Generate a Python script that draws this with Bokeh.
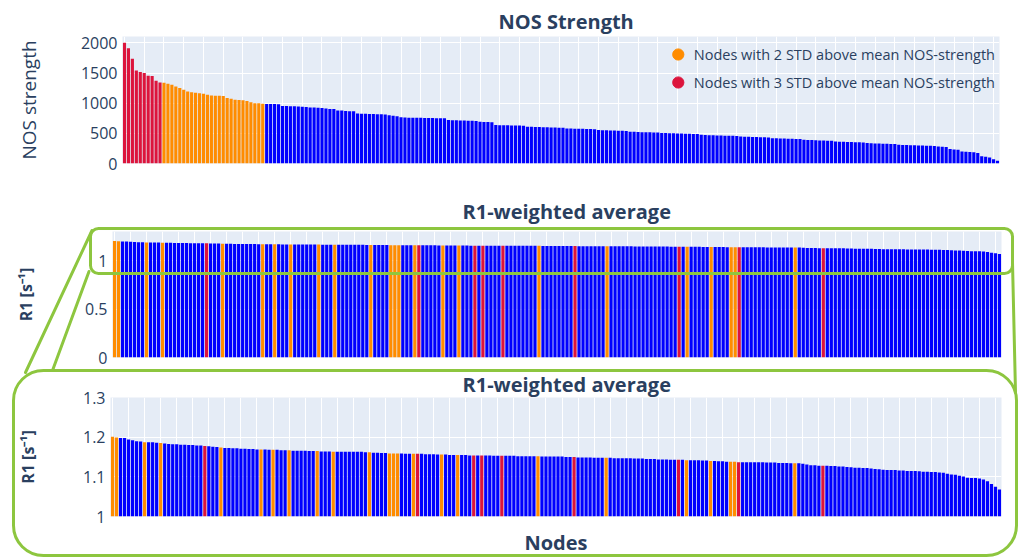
from bokeh.plotting import figure
from bokeh.models import (Range1d, FixedTicker, PrintfTickFormatter, BoxAnnotation,
                          Legend, LegendItem, ColumnDataSource, GridBox)
from bokeh.embed import file_html
from bokeh.resources import INLINE

# ---------------- data ----------------
# NOS strength per node, sorted descending
nos_strength = [
    2000, 1912, 1736, 1543, 1515, 1499, 1455, 1449, 1372, 1344,
    1339, 1322, 1306, 1278, 1251, 1223, 1195, 1179, 1174, 1163,
    1157, 1140, 1129, 1124, 1124, 1118, 1085, 1074, 1058, 1052,
    1047, 1036, 1014, 997, 997, 992, 985, 985, 985, 980,
    955, 952, 950, 948, 945, 940, 936, 930, 928, 925,
    920, 910, 905, 903, 880, 879, 870, 866, 864, 830,
    825, 823, 822, 820, 818, 815, 812, 800, 790, 782,
    765, 762, 760, 760, 758, 757, 756, 755, 754, 752,
    751, 750, 720, 718, 716, 714, 712, 710, 708, 705,
    690, 688, 686, 684, 640, 636, 634, 632, 631, 630,
    628, 626, 610, 608, 606, 604, 602, 600, 598, 595,
    594, 592, 582, 580, 578, 576, 575, 573, 571, 569,
    555, 552, 550, 548, 546, 544, 542, 540, 528, 525,
    522, 520, 518, 516, 514, 512, 506, 505, 503, 500,
    498, 496, 494, 492, 490, 488, 475, 472, 470, 468,
    466, 464, 462, 460, 458, 456, 447, 444, 442, 440,
    438, 436, 434, 432, 420, 418, 416, 413, 411, 409,
    407, 405, 393, 390, 388, 385, 383, 381, 379, 377,
    365, 362, 360, 357, 355, 353, 351, 349, 338, 336,
    333, 330, 328, 326, 324, 322, 310, 308, 306, 303,
    301, 299, 297, 295, 293, 291, 280, 278, 275, 240,
    232, 228, 200, 195, 190, 185, 175, 120, 110, 100,
    70, 45,
]
n_nodes_3std = 10   # first nodes (by NOS strength) with 3 STD above mean
n_nodes_2std = 26   # following nodes with 2 STD above mean

# R1-weighted average per node, sorted descending
r1_weighted = [
    1.201, 1.199, 1.198, 1.198, 1.194, 1.192, 1.190, 1.189, 1.187, 1.187,
    1.187, 1.186, 1.185, 1.184, 1.183, 1.182, 1.182, 1.181, 1.181, 1.180,
    1.180, 1.179, 1.179, 1.178, 1.177, 1.176, 1.175, 1.174, 1.173, 1.173,
    1.172, 1.172, 1.171, 1.171, 1.170, 1.170, 1.169, 1.169, 1.169, 1.168,
    1.168, 1.168, 1.167, 1.167, 1.167, 1.166, 1.166, 1.166, 1.166, 1.165,
    1.165, 1.165, 1.164, 1.164, 1.164, 1.163, 1.163, 1.163, 1.163, 1.163,
    1.163, 1.163, 1.163, 1.162, 1.162, 1.161, 1.161, 1.160, 1.160, 1.159,
    1.159, 1.159, 1.159, 1.158, 1.158, 1.158, 1.158, 1.158, 1.157, 1.157,
    1.157, 1.156, 1.156, 1.156, 1.155, 1.155, 1.155, 1.155, 1.155, 1.154,
    1.154, 1.154, 1.154, 1.154, 1.154, 1.153, 1.153, 1.153, 1.153, 1.153,
    1.153, 1.152, 1.152, 1.152, 1.152, 1.152, 1.152, 1.151, 1.151, 1.151,
    1.151, 1.151, 1.151, 1.150, 1.150, 1.150, 1.149, 1.149, 1.149, 1.149,
    1.148, 1.148, 1.148, 1.148, 1.148, 1.147, 1.147, 1.147, 1.147, 1.147,
    1.146, 1.146, 1.146, 1.145, 1.145, 1.145, 1.144, 1.144, 1.144, 1.143,
    1.143, 1.143, 1.143, 1.142, 1.142, 1.142, 1.142, 1.141, 1.141, 1.140,
    1.140, 1.139, 1.139, 1.138, 1.138, 1.138, 1.137, 1.137, 1.137, 1.137,
    1.137, 1.137, 1.137, 1.136, 1.136, 1.136, 1.135, 1.135, 1.135, 1.134,
    1.134, 1.134, 1.133, 1.131, 1.129, 1.129, 1.128, 1.128, 1.128, 1.127,
    1.127, 1.126, 1.126, 1.125, 1.124, 1.123, 1.123, 1.122, 1.122, 1.121,
    1.120, 1.119, 1.118, 1.117, 1.117, 1.117, 1.116, 1.116, 1.115, 1.115,
    1.115, 1.114, 1.113, 1.113, 1.112, 1.112, 1.111, 1.110, 1.108, 1.106,
    1.105, 1.103, 1.101, 1.098, 1.097, 1.097, 1.096, 1.093, 1.089, 1.082,
    1.075, 1.068,
]
# positions (in R1 order) of the nodes that are high in NOS strength
r1_nodes_2std = [0, 1, 8, 12, 27, 37, 40, 44, 51, 55, 64, 69, 70, 71, 75, 82,
                 86, 106, 123, 143, 149, 154, 155, 170]
r1_nodes_3std = [23, 76, 90, 92, 97, 115, 141, 156, 177]

legend_labels = ["Nodes with 2 STD above mean NOS-strength",
                 "Nodes with 3 STD above mean NOS-strength"]
nos_ticks = [0, 500, 1000, 1500, 2000]
r1_ticks = [0, 0.5, 1]
r1_zoom_ticks = [1, 1.1, 1.2, 1.3]

# ---------------- style ----------------
FONT = "Open Sans"
TXT = "#2a3f5f"
PLOT_BG = "#E5ECF6"
BLUE = "#0000FF"
ORANGE = "#FF8C00"
RED = "#DC143C"
GREEN = "#8DC63F"
W = 1020
H = 558


def make_panel(height, ref_top, frame, y_range, yticks, grid_step, title,
               title_offset, title_standoff, ylabel, ylabel_size, ylabel_style,
               ylabel_standoff, xlabel=None):
    fl, fr, ft, fb = frame  # frame edges in page pixels
    p = figure(width=W, height=height, output_backend="svg", toolbar_location=None,
               x_range=Range1d(-0.5, len(nos_strength) - 0.5),
               y_range=Range1d(*y_range),
               x_axis_location="below" if xlabel else None,
               min_border_left=fl, min_border_right=W - fr,
               min_border_top=ft - ref_top, min_border_bottom=height - (fb - ref_top),
               background_fill_color=PLOT_BG, border_fill_color="white",
               outline_line_color=None, frame_align=False)
    p.title.text = title
    p.title.align = "left"
    p.title.offset = title_offset
    p.title.standoff = title_standoff
    p.title.text_font = FONT
    p.title.text_font_size = "20px"
    p.title.text_font_style = "bold"
    p.title.text_color = TXT
    p.xgrid.ticker = FixedTicker(ticks=list(range(0, len(nos_strength), grid_step)))
    p.ygrid.ticker = FixedTicker(ticks=yticks)
    p.grid.grid_line_color = "white"
    p.grid.grid_line_width = 1
    ax = p.yaxis[0]
    ax.ticker = FixedTicker(ticks=yticks)
    ax.formatter = PrintfTickFormatter(format="%g")
    ax.axis_line_color = None
    ax.major_tick_line_color = None
    ax.minor_tick_line_color = None
    ax.major_tick_out = 0
    ax.major_label_standoff = 5
    ax.major_label_text_font = FONT
    ax.major_label_text_font_size = "16px"
    ax.major_label_text_color = TXT
    ax.axis_label = ylabel
    ax.axis_label_text_font = FONT
    ax.axis_label_text_font_size = ylabel_size
    ax.axis_label_text_font_style = ylabel_style
    ax.axis_label_text_color = TXT
    ax.axis_label_standoff = ylabel_standoff
    if xlabel:
        xa = p.xaxis[0]
        xa.ticker = FixedTicker(ticks=[])
        xa.axis_line_color = None
        xa.major_tick_line_color = None
        xa.minor_tick_line_color = None
        xa.major_tick_out = 0
        xa.major_label_standoff = 0
        xa.axis_label = xlabel
        xa.axis_label_text_font = FONT
        xa.axis_label_text_font_size = "20px"
        xa.axis_label_text_font_style = "bold"
        xa.axis_label_text_color = TXT
        xa.axis_label_standoff = 12
    return p


idx = list(range(len(nos_strength)))

# ---------------- panel A : NOS strength ----------------
pA = make_panel(185, 0, (122, 999, 36, 163), (0, 2105), nos_ticks, 5,
                "NOS Strength", 376, 3, "NOS strength", "19px", "normal", 36)
colA = [RED if i < n_nodes_3std else ORANGE if i < n_nodes_3std + n_nodes_2std else BLUE
        for i in idx]
pA.vbar(x="x", top="top", width=0.8, bottom=0, fill_color="c", line_color=None,
        source=ColumnDataSource(dict(x=idx, top=nos_strength, c=colA)))
# legend swatches: zero-size markers on the highlighted bars
i2 = [i for i in idx if colA[i] == ORANGE]
i3 = [i for i in idx if colA[i] == RED]
rO = pA.scatter(x=i2, y=[nos_strength[i] for i in i2], marker="circle", size=0,
                fill_color=ORANGE, line_color=ORANGE)
rR = pA.scatter(x=i3, y=[nos_strength[i] for i in i3], marker="circle", size=0,
                fill_color=RED, line_color=RED)
leg = Legend(items=[LegendItem(label=legend_labels[0], renderers=[rO]),
                    LegendItem(label=legend_labels[1], renderers=[rR])],
             location="top_right", margin=4, padding=3, spacing=0,
             glyph_width=28, glyph_height=28, label_standoff=2,
             label_text_font=FONT, label_text_font_size="14.5px",
             label_text_color=TXT, background_fill_alpha=0, border_line_color=None)
pA.add_layout(leg)

# ---------------- colours by R1 order ----------------
r1_idx = list(range(len(r1_weighted)))
colR = [RED if i in r1_nodes_3std else ORANGE if i in r1_nodes_2std else BLUE
        for i in r1_idx]

# ---------------- panel B : R1 full ----------------
pB = make_panel(182, 185, (112, 1001, 231, 357), (0, 1.3), r1_ticks, 4,
                "R1-weighted average", 350, 14, "R1 [s\u207b\u00b9]", "16px", "bold", 45)
pB.vbar(x="x", top="top", width=0.8, bottom=0, fill_color="c", line_color=None,
        source=ColumnDataSource(dict(x=r1_idx, top=r1_weighted, c=colR)))

# ---------------- panel C : R1 zoom ----------------
pC = make_panel(191, 367, (110, 1001, 397, 518), (1, 1.3), r1_zoom_ticks, 4,
                "R1-weighted average", 352, 0, "R1 [s\u207b\u00b9]", "16px", "bold", 41,
                xlabel="Nodes")
pC.vbar(x="x", top="top", width=0.8, bottom=0, fill_color="c", line_color=None,
        source=ColumnDataSource(dict(x=r1_idx, top=r1_weighted, c=colR)))

# ---------------- transparent overlay with the green zoom call-out ----------------
pO = figure(frame_width=W, frame_height=H, output_backend="svg", toolbar_location=None,
            x_range=Range1d(0, W), y_range=Range1d(H, 0),
            x_axis_location=None, y_axis_location=None, min_border=0,
            background_fill_color=None, border_fill_color=None,
            outline_line_color=None, frame_align=False)
pO.grid.visible = False
pO.segment(x0=[91.5, 88.5, 1012], y0=[230, 271, 262],
           x1=[25, 52, 1015], y1=[372, 370, 392],
           line_color=GREEN, line_width=3, line_cap="round")
pO.add_layout(BoxAnnotation(left=90, right=1012, top=228, bottom=273,
                            fill_color=None, fill_alpha=0, line_color=GREEN,
                            line_alpha=1, line_width=3, line_dash="solid",
                            border_radius=8))
pO.add_layout(BoxAnnotation(left=13, right=1016, top=370, bottom=555,
                            fill_color=None, fill_alpha=0, line_color=GREEN,
                            line_alpha=1, line_width=3, line_dash="solid",
                            border_radius=30))

layout = GridBox(children=[(pA, 0, 0), (pB, 1, 0), (pC, 2, 0), (pO, 0, 0, 3, 1)],
                 spacing=0)
open("out.html", "w").write(file_html(layout, INLINE))
